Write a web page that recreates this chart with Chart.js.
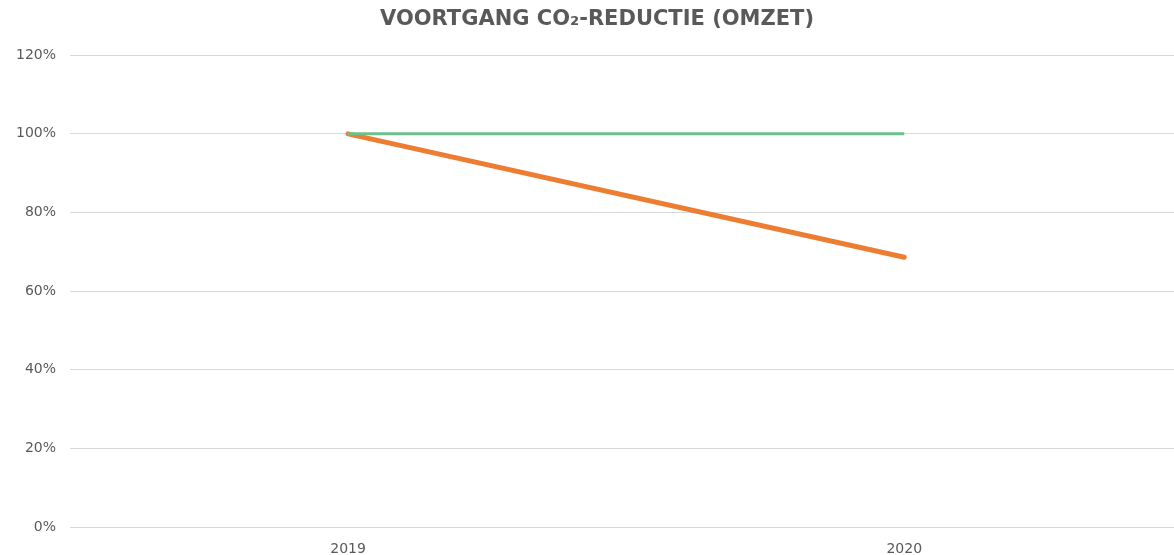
<!DOCTYPE html>
<html>
<head>
<meta charset="utf-8">
<script src="https://cdn.jsdelivr.net/npm/chart.js@4/dist/chart.umd.min.js"></script>
<style>
  html, body { margin: 0; padding: 0; background: #fff; }
  #wrap { width: 1174px; height: 555px; }
</style>
</head>
<body>
<div id="wrap"><canvas id="lineChart"></canvas></div>
<script>
// chart data
const years = [2019, 2020];
const targetValues = [100, 100];
const actualValues = [100, 68.6];
const yTicks = [0, 20, 40, 60, 80, 100, 120];

const textGray = '#595959';

const toPoints = (vals) => vals.map((v, i) => ({ x: years[i], y: v }));

// nudge the title a bit to the right, like the original
const titleShift = {
  id: 'titleShift',
  afterLayout(chart) {
    if (chart.titleBlock) chart.titleBlock.left += 20;
  }
};

const ctx = document.getElementById('lineChart');

new Chart(ctx, {
  type: 'line',
  data: {
    datasets: [
      {
        label: 'Doel',
        data: toPoints(targetValues),
        borderColor: '#6cc08e',
        borderWidth: 3,
        pointRadius: 0,
        tension: 0,
        fill: false,
        order: 1
      },
      {
        label: 'Werkelijk',
        data: toPoints(actualValues),
        borderColor: '#ed7d31',
        borderWidth: 5,
        borderCapStyle: 'round',
        pointRadius: 0,
        tension: 0,
        fill: false,
        order: 2
      }
    ]
  },
  plugins: [titleShift],
  options: {
    responsive: true,
    maintainAspectRatio: false,
    animation: false,
    layout: { padding: 0 },
    plugins: {
      legend: { display: false },
      tooltip: { enabled: false },
      title: {
        display: true,
        text: 'VOORTGANG CO\u2082-REDUCTIE (OMZET)',
        color: textGray,
        font: { family: 'DejaVu Sans', size: 21, weight: 'bold' },
        padding: { top: 7, bottom: 23 }
      }
    },
    scales: {
      x: {
        type: 'linear',
        min: 2018.5,
        max: 2020.485,
        afterFit: (scale) => { scale.height = 28; },
        afterBuildTicks: (scale) => {
          scale.ticks = years.map(v => ({ value: v }));
        },
        grid: { display: false, drawTicks: false },
        border: { display: false },
        ticks: {
          color: textGray,
          font: { family: 'DejaVu Sans', size: 14 },
          padding: 14,
          callback: (v) => String(v)
        }
      },
      y: {
        min: 0,
        max: 120,
        afterFit: (scale) => { scale.width = 70; },
        afterBuildTicks: (scale) => {
          scale.ticks = yTicks.map(v => ({ value: v }));
        },
        grid: { color: '#d9d9d9', lineWidth: 1, drawTicks: false },
        border: { display: false },
        ticks: {
          color: textGray,
          font: { family: 'DejaVu Sans', size: 14 },
          padding: 14,
          callback: (v) => v + '%'
        }
      }
    }
  }
});
</script>
</body>
</html>
